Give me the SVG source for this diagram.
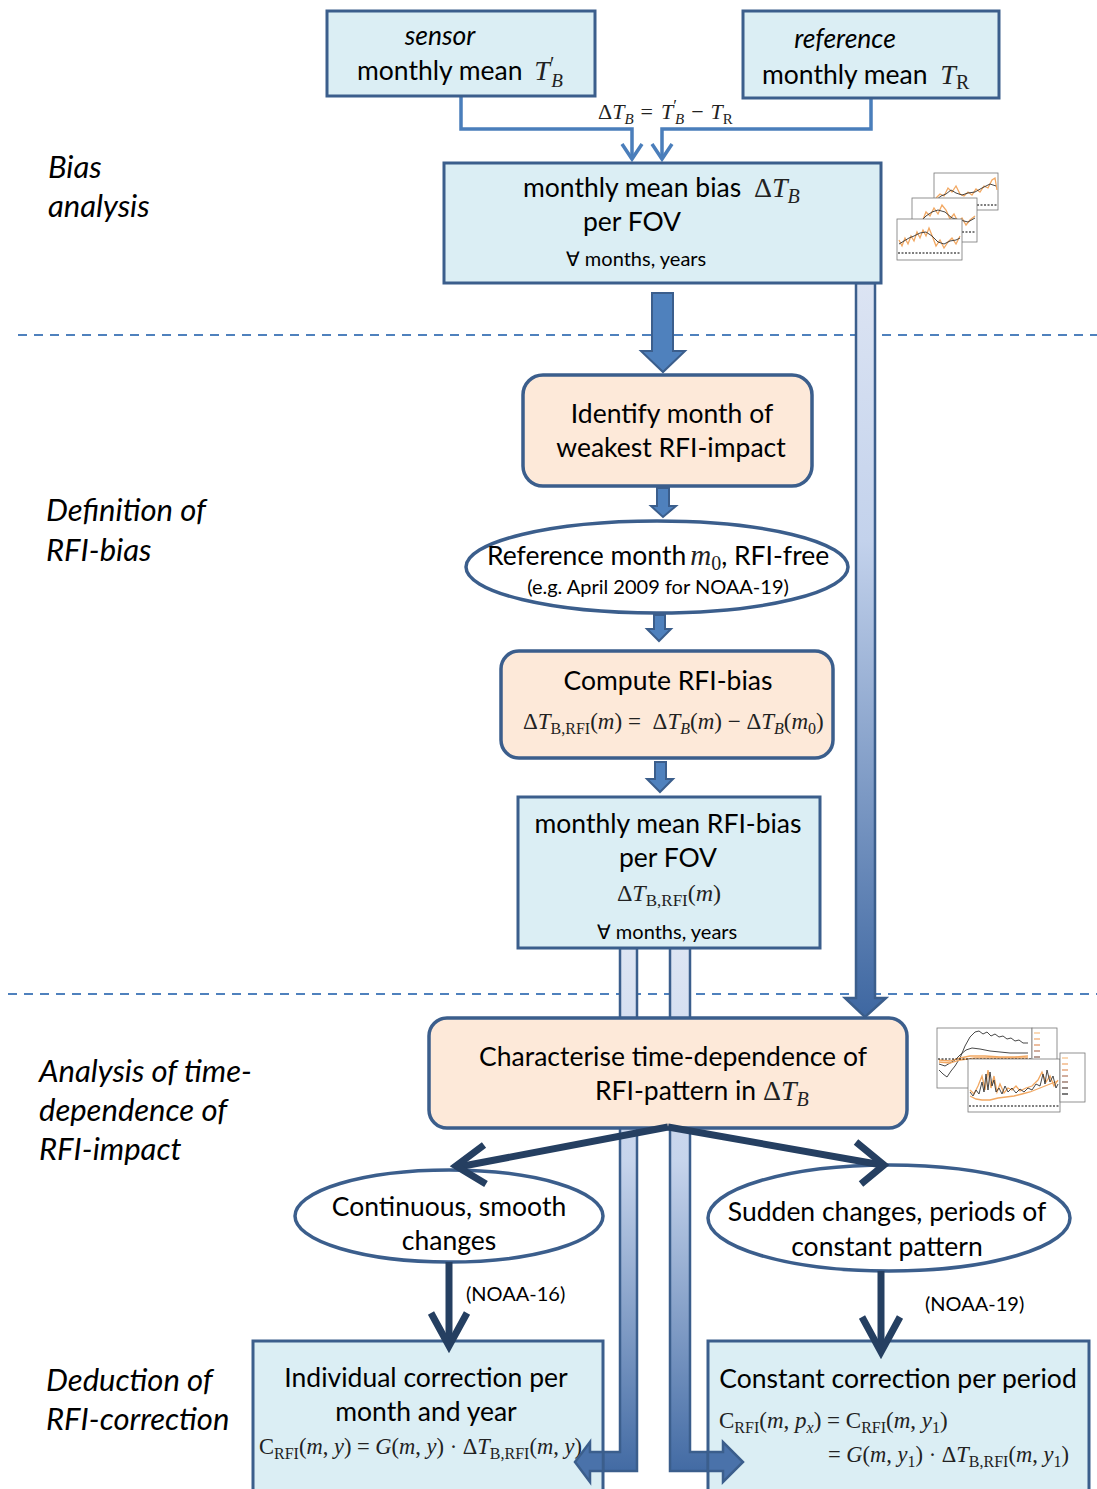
<svg xmlns="http://www.w3.org/2000/svg" width="1097" height="1489" viewBox="0 0 1097 1489">
<defs>
<linearGradient id="gLong" gradientUnits="userSpaceOnUse" x1="0" y1="283" x2="0" y2="1018">
<stop offset="0" stop-color="#DCE4F3"/><stop offset="0.35" stop-color="#C3D2EC"/><stop offset="1" stop-color="#3E67A1"/>
</linearGradient>
<linearGradient id="gPipe" gradientUnits="userSpaceOnUse" x1="0" y1="948" x2="0" y2="1482">
<stop offset="0" stop-color="#DDE5F3"/><stop offset="0.4" stop-color="#C6D4EC"/><stop offset="1" stop-color="#3E67A1"/>
</linearGradient>
<style>
.box{fill:#DBEEF4;stroke:#3B5E8C;stroke-width:3}
.pch{fill:#FDE9D9;stroke:#3B5E8C;stroke-width:3.5}
.ell{fill:#FFFFFF;stroke:#3B5E8C;stroke-width:3.5}
.blk{fill:#4F81BD;stroke:#3B5E8C;stroke-width:2;stroke-linejoin:miter}
.pipe{stroke:#3B5E8C;stroke-width:2.5;stroke-linejoin:miter}
.con{fill:none;stroke:#4A7EBB;stroke-width:3.5}
.dk{fill:none;stroke:#253F61;stroke-width:7;stroke-linecap:butt}
.dka{fill:none;stroke:#253F61;stroke-width:7;stroke-linejoin:miter;stroke-linecap:butt}
.dash{fill:none;stroke:#4F81BD;stroke-width:2;stroke-dasharray:9 7}
.t{font-family:Lato,"Open Sans","Liberation Sans",sans-serif;font-size:26.5px;fill:#000}
.s{font-size:20px}
.lab{font-family:Lato,"Open Sans","Liberation Sans",sans-serif;font-size:31px;font-style:italic;fill:#000}
.mth{font-family:"Liberation Serif","DejaVu Serif",serif;fill:#222}
.i{font-style:italic}
.fr{fill:#fff;stroke:#777;stroke-width:0.8}
.or{fill:none;stroke:#F2A862;stroke-width:1.3}
.bl{fill:none;stroke:#333;stroke-width:0.9}
.zd{fill:none;stroke:#000;stroke-width:1.2;stroke-dasharray:2 1.5}
</style>
</defs>

<!-- section labels and separators -->
<g id="sections">
<line class="dash" x1="18" y1="335" x2="1097" y2="335"/>
<line class="dash" x1="8" y1="994" x2="1097" y2="994"/>
<text class="lab" x="48" y="178">Bias</text>
<text class="lab" x="48" y="217">analysis</text>
<text class="lab" x="46" y="521">Definition of</text>
<text class="lab" x="46" y="561">RFI-bias</text>
<text class="lab" x="39" y="1082">Analysis of time-</text>
<text class="lab" x="39" y="1121">dependence of</text>
<text class="lab" x="39" y="1160">RFI-impact</text>
<text class="lab" x="46" y="1391">Deduction of</text>
<text class="lab" x="46" y="1430">RFI-correction</text>
</g>

<!-- connectors (pipes behind boxes) -->
<g id="connectors">
<polyline class="con" points="461,96 461,129 632,129 632,159"/>
<polyline class="con" points="622,144 632,159 642,144"/>
<polyline class="con" points="871,98 871,129 662,129 662,159"/>
<polyline class="con" points="652,144 662,159 672,144"/>
<text class="mth" x="598" y="119" font-size="22">Δ<tspan class="i">T</tspan><tspan class="i" dy="5" font-size="15">B</tspan><tspan dy="-5" dx="7">=</tspan><tspan class="i" dx="8">T</tspan><tspan dy="-8" font-size="17">′</tspan><tspan class="i" dx="-2" dy="13" font-size="15">B</tspan><tspan dy="-5" dx="7">−</tspan><tspan class="i" dx="7">T</tspan><tspan dy="5" font-size="15">R</tspan></text>

<polygon class="blk" points="652,293 673,293 673,351 685,351 663,372 641,351 652,351"/>
<polygon class="blk" points="657,488 669,488 669,506 676,506 663,517 651,506 657,506"/>
<polygon class="blk" points="654,615 665,615 665,629 671,629 659,641 647,629 654,629"/>
<polygon class="blk" points="655,762 666,762 666,779 673,779 660,792 647,779 655,779"/>

<polygon class="pipe" fill="url(#gLong)" points="856,283 875,283 875,998 886,998 865,1017 845,998 856,998"/>
<polygon class="pipe" fill="url(#gPipe)" points="620,948 637,948 637,1471 590,1471 590,1482 575,1462 590,1442 590,1452 620,1452"/>
<polygon class="pipe" fill="url(#gPipe)" points="670,948 690,948 690,1452 723,1452 723,1442 743,1462 723,1482 723,1471 670,1471"/>
</g>

<!-- nodes -->
<g id="n-sensor">
<rect class="box" x="327" y="11" width="268" height="85"/>
<text class="t" x="440" y="45" text-anchor="middle" font-style="italic">sensor</text>
<text class="t" x="357" y="80">monthly mean <tspan class="mth i" font-size="28" dx="5">T</tspan><tspan class="mth" dy="-9" font-size="20">′</tspan><tspan class="mth i" dx="-3" dy="16" font-size="19">B</tspan></text>
</g>
<g id="n-reference">
<rect class="box" x="743" y="11" width="256" height="87"/>
<text class="t" x="845" y="48" text-anchor="middle" font-style="italic">reference</text>
<text class="t" x="762" y="84">monthly mean <tspan class="mth i" font-size="28" dx="6">T</tspan><tspan class="mth" dy="5" font-size="20">R</tspan></text>
</g>
<g id="n-bias">
<rect class="box" x="444" y="163" width="437" height="120"/>
<text class="t" x="523" y="197">monthly mean bias <tspan class="mth" font-size="28" dx="6">Δ</tspan><tspan class="mth i" font-size="28">T</tspan><tspan class="mth i" dy="6" font-size="20">B</tspan></text>
<text class="t" x="632" y="231" text-anchor="middle">per FOV</text>
<text class="t s" x="636" y="266" text-anchor="middle">∀ months, years</text>
</g>
<g id="thumb-bias">
<rect class="fr" x="934" y="173" width="64" height="37"/>
<polyline class="or" points="936,198 940,194 944,196 948,188 952,192 956,186 960,194 964,196 968,192 972,195 976,189 980,192 984,186 988,188 992,180 995,178 997,190"/>
<polyline class="bl" points="936,200 941,196 946,194 951,190 956,193 962,195 968,193 975,192 982,188 990,184 996,186"/>
<line class="zd" x1="935" y1="205" x2="997" y2="205"/>
<rect class="fr" x="912" y="198" width="65" height="44"/>
<polyline class="or" points="914,226 918,220 922,222 926,212 930,216 934,208 938,214 942,205 946,210 950,219 954,214 958,222 962,218 966,225 970,220 975,216"/>
<polyline class="bl" points="914,228 920,222 926,216 932,212 938,210 945,212 952,218 960,220 968,222 975,218"/>
<line class="zd" x1="913" y1="232" x2="976" y2="232"/>
<rect class="fr" x="897" y="219" width="65" height="41"/>
<polyline class="or" points="899,240 902,246 905,238 908,244 911,236 914,241 917,232 920,238 923,230 926,236 929,228 933,238 936,246 940,240 944,248 948,242 952,238 956,244 960,236"/>
<polyline class="bl" points="899,244 904,241 909,238 914,236 920,233 926,232 932,236 938,242 944,244 950,241 956,240 960,238"/>
<line class="zd" x1="898" y1="253" x2="961" y2="253"/>
</g>

<g id="n-identify">
<rect class="pch" x="523" y="375" width="289" height="111" rx="20"/>
<text class="t" x="672" y="423" text-anchor="middle">Identify month of</text>
<text class="t" x="671" y="457" text-anchor="middle">weakest RFI-impact</text>
</g>
<g id="n-refmonth">
<ellipse class="ell" cx="657" cy="567" rx="191" ry="46"/>
<text class="t" x="487" y="565">Reference month<tspan class="mth i" font-size="29" dx="4">m</tspan><tspan class="mth" font-size="20" dy="5">0</tspan><tspan dy="-5">, RFI-free</tspan></text>
<text class="t s" x="658" y="594" text-anchor="middle">(e.g. April 2009 for NOAA-19)</text>
</g>
<g id="n-compute">
<rect class="pch" x="501" y="651" width="332" height="107" rx="18"/>
<text class="t" x="668" y="690" text-anchor="middle">Compute RFI-bias</text>
<text class="mth" x="523" y="729" font-size="23">Δ<tspan class="i">T</tspan><tspan dy="5" font-size="16">B,RFI</tspan><tspan dy="-5">(</tspan><tspan class="i">m</tspan>)  = <tspan dx="6">Δ</tspan><tspan class="i">T</tspan><tspan class="i" dy="5" font-size="16">B</tspan><tspan dy="-5">(</tspan><tspan class="i">m</tspan>) − Δ<tspan class="i">T</tspan><tspan class="i" dy="5" font-size="16">B</tspan><tspan dy="-5">(</tspan><tspan class="i">m</tspan><tspan dy="5" font-size="16">0</tspan><tspan dy="-5">)</tspan></text>
</g>
<g id="n-rfibias">
<rect class="box" x="518" y="797" width="302" height="151"/>
<text class="t" x="668" y="833" text-anchor="middle">monthly mean RFI-bias</text>
<text class="t" x="668" y="867" text-anchor="middle">per FOV</text>
<text class="mth" x="669" y="901" font-size="24" text-anchor="middle">Δ<tspan class="i">T</tspan><tspan dy="5" font-size="17">B,RFI</tspan><tspan dy="-5">(</tspan><tspan class="i">m</tspan>)</text>
<text class="t s" x="667" y="939" text-anchor="middle">∀ months, years</text>
</g>
<g id="n-characterise">
<rect class="pch" x="429" y="1018" width="478" height="110" rx="18"/>
<text class="t" x="673" y="1066" text-anchor="middle">Characterise time-dependence of</text>
<text class="t" x="595" y="1100">RFI-pattern in <tspan class="mth" font-size="28">Δ</tspan><tspan class="mth i" font-size="28">T</tspan><tspan class="mth i" dy="6" font-size="20">B</tspan></text>
</g>
<g id="thumb-time">
<rect class="fr" x="937" y="1028" width="95" height="60"/>
<polyline class="bl" points="939,1070 943,1074 947,1077 951,1071 955,1066 960,1058 965,1046 970,1037 975,1032 979,1031 983,1034 987,1032 991,1036 995,1034 999,1037 1003,1036 1007,1039 1011,1038 1015,1041 1019,1040 1023,1043 1028,1043"/>
<polyline class="bl" points="939,1064 945,1066 950,1063 955,1060 960,1055 966,1050 972,1048 980,1049 990,1051 1000,1052 1010,1053 1020,1053 1028,1053" stroke="#6B4A3A"/>
<polyline class="or" points="939,1060 950,1061 960,1058 970,1056 985,1056 1000,1057 1015,1057 1028,1056"/>
<polyline class="or" points="939,1062 950,1063 960,1060 975,1058 995,1058 1028,1058" stroke="#C08060"/>
<line class="zd" x1="938" y1="1059" x2="1031" y2="1059"/>
<rect class="fr" x="1032" y="1028" width="25" height="49"/>
<g stroke-width="1.3">
<line x1="1034" y1="1033" x2="1040" y2="1033" stroke="#F7C48F"/><line x1="1034" y1="1039" x2="1040" y2="1039" stroke="#F2AE74"/><line x1="1034" y1="1045" x2="1040" y2="1045" stroke="#E29A6A"/><line x1="1034" y1="1051" x2="1040" y2="1051" stroke="#B88068"/><line x1="1034" y1="1057" x2="1040" y2="1057" stroke="#8E6A5C"/><line x1="1034" y1="1063" x2="1040" y2="1063" stroke="#5E4C46"/><line x1="1034" y1="1069" x2="1040" y2="1069" stroke="#333"/>
</g>
<rect class="fr" x="968" y="1059" width="92" height="53"/>
<polyline class="or" points="970,1096 976,1099 982,1100 990,1100 998,1098 1006,1097 1014,1096 1022,1094 1030,1092 1040,1088 1050,1084 1058,1081"/>
<polyline class="or" points="970,1090 974,1094 978,1086 982,1076 985,1090 988,1070 991,1088 994,1076 997,1092 1000,1084 1004,1093 1008,1088 1012,1090 1016,1086 1020,1091 1026,1088 1032,1086 1038,1080 1042,1072 1046,1082 1050,1076 1054,1086 1058,1080" stroke="#E38E4E"/>
<polyline class="bl" points="970,1092 973,1096 976,1090 979,1094 982,1082 984,1092 986,1074 988,1090 990,1072 992,1086 994,1080 996,1092 999,1088 1002,1094 1005,1086 1008,1092 1012,1088 1016,1093 1020,1089 1024,1092 1028,1088 1032,1090 1036,1084 1040,1086 1043,1074 1045,1084 1047,1070 1050,1082 1053,1076 1056,1088 1058,1084" stroke-width="1.2"/>
<line class="zd" x1="969" y1="1106" x2="1059" y2="1106"/>
<rect class="fr" x="1060" y="1053" width="25" height="49"/>
<g stroke-width="1.3">
<line x1="1062" y1="1058" x2="1068" y2="1058" stroke="#F7C48F"/><line x1="1062" y1="1064" x2="1068" y2="1064" stroke="#F2AE74"/><line x1="1062" y1="1070" x2="1068" y2="1070" stroke="#E29A6A"/><line x1="1062" y1="1076" x2="1068" y2="1076" stroke="#B88068"/><line x1="1062" y1="1082" x2="1068" y2="1082" stroke="#8E6A5C"/><line x1="1062" y1="1088" x2="1068" y2="1088" stroke="#5E4C46"/><line x1="1062" y1="1094" x2="1068" y2="1094" stroke="#333"/>
</g>
</g>

<g id="n-continuous">
<ellipse class="ell" cx="449" cy="1216" rx="154" ry="46"/>
<text class="t" x="449" y="1216" text-anchor="middle">Continuous, smooth</text>
<text class="t" x="449" y="1250" text-anchor="middle">changes</text>
</g>
<g id="n-sudden">
<ellipse class="ell" cx="889" cy="1218" rx="181" ry="53"/>
<text class="t" x="887" y="1221" text-anchor="middle">Sudden changes, periods of</text>
<text class="t" x="887" y="1256" text-anchor="middle">constant pattern</text>
</g>
<g id="n-individual">
<rect class="box" x="253" y="1341" width="350" height="160"/>
<text class="t" x="426" y="1387" text-anchor="middle">Individual correction per</text>
<text class="t" x="426" y="1421" text-anchor="middle">month and year</text>
<text class="mth" x="259" y="1454" font-size="22.5">C<tspan dy="5" font-size="16">RFI</tspan><tspan dy="-5">(</tspan><tspan class="i">m</tspan>, <tspan class="i">y</tspan>) = <tspan class="i">G</tspan>(<tspan class="i">m</tspan>, <tspan class="i">y</tspan>) · Δ<tspan class="i">T</tspan><tspan dy="5" font-size="16">B,RFI</tspan><tspan dy="-5">(</tspan><tspan class="i">m</tspan>, <tspan class="i">y</tspan>)</text>
</g>
<g id="n-constant">
<rect class="box" x="708" y="1341" width="381" height="160"/>
<text class="t" x="898" y="1388" text-anchor="middle">Constant correction per period</text>
<text class="mth" x="719" y="1428" font-size="23">C<tspan dy="5" font-size="16">RFI</tspan><tspan dy="-5">(</tspan><tspan class="i">m</tspan>, <tspan class="i">p</tspan><tspan class="i" dy="5" font-size="16">x</tspan><tspan dy="-5">) = C</tspan><tspan dy="5" font-size="16">RFI</tspan><tspan dy="-5">(</tspan><tspan class="i">m</tspan>, <tspan class="i">y</tspan><tspan dy="5" font-size="16">1</tspan><tspan dy="-5">)</tspan></text>
<text class="mth" x="828" y="1462" font-size="22.5">= <tspan class="i">G</tspan>(<tspan class="i">m</tspan>, <tspan class="i">y</tspan><tspan dy="5" font-size="16">1</tspan><tspan dy="-5">) · Δ</tspan><tspan class="i">T</tspan><tspan dy="5" font-size="16">B,RFI</tspan><tspan dy="-5">(</tspan><tspan class="i">m</tspan>, <tspan class="i">y</tspan><tspan dy="5" font-size="16">1</tspan><tspan dy="-5">)</tspan></text>
</g>

<!-- branch arrows (on top) -->
<g id="branches">
<polyline class="dk" points="668,1127 458,1167"/>
<polyline class="dka" points="484,1145 456,1166 486,1184"/>
<polyline class="dk" points="668,1127 882,1165"/>
<polyline class="dka" points="856,1142 884,1165 861,1184"/>
<line class="dk" x1="449" y1="1262" x2="449" y2="1344"/>
<polyline class="dka" points="431,1313 449,1346 467,1313"/>
<line class="dk" x1="881" y1="1271" x2="881" y2="1350"/>
<polyline class="dka" points="862,1317 881,1352 900,1317"/>
<text class="t s" x="466" y="1301">(NOAA-16)</text>
<text class="t s" x="925" y="1311">(NOAA-19)</text>
</g>
<g id="pipe-heads">
<polygon class="pipe" fill="#4A72AA" points="603,1452 590,1452 590,1442 575,1462 590,1482 590,1471 603,1471"/>
<polygon class="pipe" fill="#4A72AA" points="708,1452 723,1452 723,1442 743,1462 723,1482 723,1471 708,1471"/>
</g>
</svg>
